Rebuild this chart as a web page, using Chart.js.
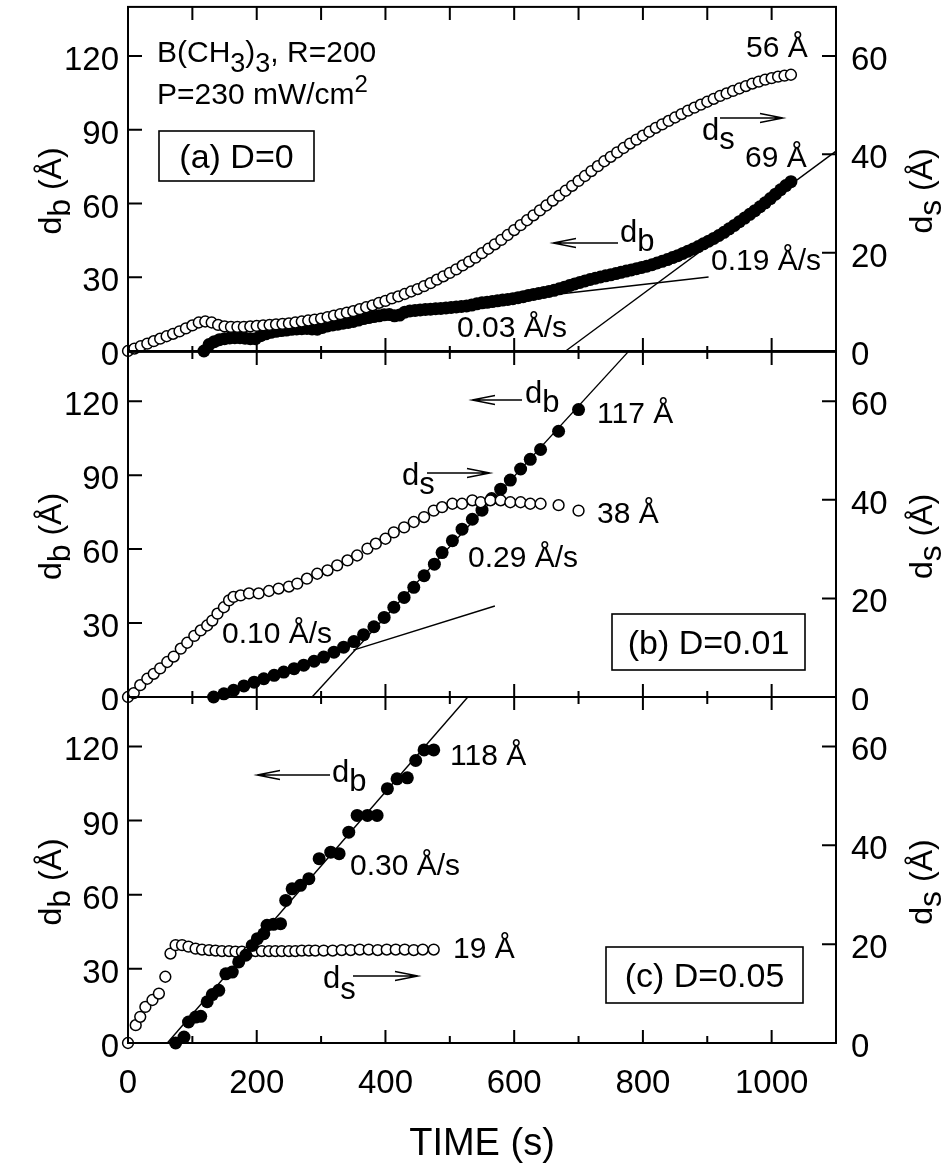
<!DOCTYPE html>
<html><head><meta charset="utf-8">
<script src="https://cdn.jsdelivr.net/npm/chart.js@4.4.0/dist/chart.umd.min.js"></script>
<style>
html,body{margin:0;padding:0;background:#fff;}
body{width:943px;height:1164px;position:relative;overflow:hidden;}
canvas{position:absolute;left:0;}
</style></head><body>
<canvas id="ca" width="943" height="365" style="top:0px"></canvas>
<canvas id="cb" width="943" height="365" style="top:345px"></canvas>
<canvas id="cc" width="943" height="474" style="top:690px"></canvas>
<script>
// ---------- tick labels ----------
const TIME_MAJOR = [0, 200, 400, 600, 800, 1000];
const TIME_MINOR = [100, 300, 500, 700, 900];
const DB_TICKS = [0, 30, 60, 90, 120];
const DS_TICKS = [0, 20, 40, 60];

// ---------- panel (a) D=0 ----------
const a_ds_t = [0,10,20,30,40,50,60,70,80,90,100,110,120,130,140,150,160,170,180,190,200,210,220,230,240,250,260,270,280,290,300,310,320,330,340,350,360,370,380,390,400,410,420,430,440,450,460,470,480,490,500,510,520,530,540,550,560,570,580,590,600,610,620,630,640,650,660,670,680,690,700,710,720,730,740,750,760,770,780,790,800,810,820,830,840,850,860,870,880,890,900,910,920,930,940,950,960,970,980,990,1000,1010,1020,1030];
const a_ds = [0,0.5,1.0,1.5,2.0,2.5,3.0,3.5,4.0,4.6,5.2,5.8,6.0,5.8,5.3,5.0,4.9,4.9,4.9,5.0,5.1,5.2,5.3,5.4,5.5,5.6,5.8,6.0,6.2,6.4,6.6,6.9,7.2,7.5,7.8,8.1,8.5,8.9,9.3,9.8,10.2,10.7,11.1,11.6,12.1,12.6,13.2,13.8,14.5,15.2,15.9,16.6,17.4,18.2,19.0,19.9,20.8,21.7,22.6,23.6,24.6,25.6,26.6,27.6,28.6,29.6,30.6,31.6,32.6,33.6,34.6,35.6,36.6,37.6,38.6,39.5,40.4,41.3,42.2,43.0,43.8,44.6,45.4,46.1,46.8,47.5,48.2,48.9,49.5,50.1,50.7,51.3,51.9,52.4,52.9,53.4,53.9,54.4,54.8,55.2,55.5,55.8,56.0,56.2];
const a_db_t = [118,126,134,142,150,158,166,174,182,190,198,206,214,222,230,238,246,254,262,270,278,286,294,302,310,318,326,334,342,350,358,366,374,382,390,398,406,414,422,430,438,446,454,462,470,478,486,494,502,510,518,526,534,542,550,558,566,574,582,590,598,606,614,622,630,638,646,654,662,670,678,686,694,702,710,718,726,734,742,750,758,766,774,782,790,798,806,814,822,830,838,846,854,862,870,878,886,894,902,910,918,926,934,942,950,958,966,974,982,990,998,1006,1014,1022,1030];
const a_db = [0.0,2.6,3.8,4.6,5.0,5.3,5.4,5.4,5.2,5.0,5.0,6.2,7.0,7.6,8.0,8.3,8.5,8.8,9.0,9.1,9.2,9.0,8.9,9.6,10.2,10.6,10.9,11.3,11.6,12.0,12.6,13.2,13.6,14.0,14.3,14.7,14.8,14.3,14.6,15.8,16.3,16.5,16.7,16.9,17.0,17.2,17.3,17.5,17.7,17.9,18.1,18.3,18.7,19.2,19.6,19.8,20.1,20.4,20.7,21.0,21.3,21.7,22.1,22.6,23.0,23.4,23.8,24.2,24.7,25.3,25.9,26.6,27.3,27.9,28.5,29.1,29.6,30.1,30.6,31.0,31.5,32.0,32.5,33.0,33.5,34.0,34.5,35.1,35.8,36.5,37.2,38.0,38.8,39.7,40.6,41.5,42.5,43.6,44.7,45.8,47.0,48.3,49.7,51.1,52.6,54.1,55.6,57.1,58.7,60.3,62.0,63.8,65.6,67.3,68.9];
const a_fit003_t = [480, 902];
const a_fit003 = [17.5, 30.1];
const a_fit019_t = [680, 1100];
const a_fit019 = [0, 81.3];

// ---------- panel (b) D=0.01 ----------
const b_ds_t = [0,9,19,30,40,50,61,71,82,92,103,113,123,131,139,149,157,164,175,188,203,219,234,250,263,278,294,310,325,341,356,372,385,400,413,429,444,460,475,488,504,519,535,548,563,579,594,610,625,641,669,700];
const b_ds = [0,0.8,2.4,3.7,4.7,5.8,7.1,8.2,9.8,11.0,12.4,13.5,14.5,15.5,16.9,18.2,19.6,20.3,20.6,21.0,21.0,21.5,22.0,22.4,23.0,24.0,25.0,25.7,26.7,27.7,28.7,30.1,31.1,32.1,33.4,34.4,35.5,36.5,37.8,38.5,39.2,39.2,39.9,39.5,39.9,39.9,39.5,39.5,39.2,39.2,38.9,37.8];
const b_db_t = [133,149,164,180,196,211,227,242,258,273,289,304,320,335,351,366,382,398,413,429,444,460,476,488,504,519,535,550,565,579,594,610,625,641,669,700];
const b_db = [0,1.3,2.7,4.5,6.0,7.4,8.8,10.1,11.5,12.9,14.5,16.2,18.2,20.2,22.5,25.3,28.5,32.3,36.4,40.4,44.5,49.2,53.9,58.6,63.4,68.1,72.1,75.8,80.5,84.3,88.0,92.5,96.4,100.4,107.8,116.6];
const b_fit010_t = [350, 570];
const b_fit010 = [19.0, 36.9];
const b_fit029_t = [286, 777];
const b_fit029 = [0, 140];

// ---------- panel (c) D=0.05 ----------
const c_ds_t = [0,12,19,27,38,48,58,66,74,84,94,105,115,126,136,146,157,167,177,188,198,208,219,229,239,250,260,270,281,291,304,318,332,346,360,374,388,402,416,430,444,458,475];
const c_ds = [0,3.6,5.3,7.3,8.7,10.0,13.4,18.1,19.8,19.8,19.5,19.1,18.9,18.8,18.7,18.6,18.6,18.5,18.5,18.5,18.6,18.6,18.6,18.6,18.6,18.6,18.6,18.7,18.7,18.7,18.7,18.7,18.8,18.8,18.9,18.9,18.8,18.9,18.9,18.9,18.8,18.9,18.9];
const c_db_t = [74,87,94,105,113,123,131,141,152,162,172,183,193,201,211,216,226,237,245,255,268,281,297,315,328,343,356,372,387,403,418,434,447,460,475];
const c_db = [0,2.4,8.5,10.5,10.8,16.7,19.6,21.3,28.0,28.7,32.8,35.5,39.5,42.2,44.2,47.6,48.0,48.3,57.7,62.4,63.8,66.5,74.6,77.2,76.6,85.3,92.1,92.1,92.1,102.9,106.9,107.3,114.3,118.6,118.6];
const c_fit030_t = [61, 528];
const c_fit030 = [0, 140];

// ---------- helpers ----------
const FAM = '"Liberation Sans", Arial, Helvetica, sans-serif';
const F = s => s + 'px ' + FAM;
const pts = (t, v) => t.map((x, i) => ({x: x, y: v[i]}));

function rich(ctx, parts, x, y, size, align) {
  let w = 0;
  for (const p of parts) { ctx.font = F(size * (p[2] || 1)); w += ctx.measureText(p[0]).width; }
  let cx = align === 'center' ? x - w / 2 : x;
  ctx.textAlign = 'left'; ctx.textBaseline = 'alphabetic';
  for (const p of parts) {
    ctx.font = F(size * (p[2] || 1));
    ctx.fillText(p[0], cx, y + (p[1] || 0));
    cx += ctx.measureText(p[0]).width;
  }
}
function txt(ctx, s, x, y, size, align) {
  ctx.font = F(size); ctx.textAlign = align || 'left'; ctx.textBaseline = 'alphabetic';
  ctx.fillText(s, x, y);
}
function arrow(ctx, x1, x2, y, headLeft) {
  ctx.save(); ctx.lineWidth = 1.4; ctx.beginPath();
  ctx.moveTo(x1, y); ctx.lineTo(x2, y);
  const hx = headLeft ? x1 : x2, d = headLeft ? 1 : -1;
  ctx.moveTo(hx + d * 23, y - 4.5); ctx.lineTo(hx, y); ctx.lineTo(hx + d * 23, y + 4.5);
  ctx.stroke(); ctx.restore();
}
function box(ctx, x1, y1, x2, y2, label) {
  ctx.save(); ctx.lineWidth = 1.6; ctx.strokeRect(x1, y1, x2 - x1, y2 - y1);
  ctx.font = F(34); ctx.textAlign = 'center'; ctx.textBaseline = 'alphabetic';
  ctx.fillText(label, (x1 + x2) / 2, (y1 + y2) / 2 + 12);
  ctx.restore();
}

function openSet(t, v, axis) {
  return {data: pts(t, v), yAxisID: axis, pointRadius: 5.4, pointBorderWidth: 1.5,
    pointBackgroundColor: '#fff', pointBorderColor: '#000', showLine: false, clip: false};
}
function filledSet(t, v, axis, r) {
  return {data: pts(t, v), yAxisID: axis, pointRadius: r, pointBorderWidth: 0,
    pointBackgroundColor: '#000', pointBorderColor: '#000', showLine: false, clip: false};
}
function fitSet(t, v) {
  return {data: pts(t, v), yAxisID: 'yl', pointRadius: 0, showLine: true, borderColor: '#000',
    borderWidth: 1.4, fill: false, clip: false};
}

function panelPlugin(cfg) {
  return {
    id: 'panel_' + cfg.name,
    afterDraw(chart) {
      const ctx = chart.ctx, ca = chart.chartArea;
      const sx = chart.scales.x, yl = chart.scales.yl, yr = chart.scales.yr;
      ctx.save();
      ctx.strokeStyle = '#000'; ctx.fillStyle = '#000'; ctx.lineWidth = 2;
      ctx.strokeRect(ca.left, ca.top, ca.right - ca.left, ca.bottom - ca.top);
      ctx.beginPath();
      for (const v of DB_TICKS) { const p = yl.getPixelForValue(v); ctx.moveTo(ca.left, p); ctx.lineTo(ca.left + 14, p); }
      for (const v of DS_TICKS) { const p = yr.getPixelForValue(v); ctx.moveTo(ca.right, p); ctx.lineTo(ca.right - 14, p); }
      for (const v of TIME_MAJOR) {
        const p = sx.getPixelForValue(v);
        ctx.moveTo(p, ca.bottom); ctx.lineTo(p, ca.bottom - 13);
        ctx.moveTo(p, ca.top); ctx.lineTo(p, ca.top + 13);
      }
      for (const v of TIME_MINOR) {
        const p = sx.getPixelForValue(v);
        ctx.moveTo(p, ca.bottom); ctx.lineTo(p, ca.bottom - cfg.botMinor);
        ctx.moveTo(p, ca.top); ctx.lineTo(p, ca.top + cfg.topMinor);
      }
      ctx.stroke();
      // tick labels
      for (const v of DB_TICKS) txt(ctx, String(v), ca.left - 9, yl.getPixelForValue(v) + 14, 33, 'right');
      for (const v of DS_TICKS) txt(ctx, String(v), ca.right + 15, yr.getPixelForValue(v) + 14, 33, 'left');
      if (cfg.xLabels) {
        for (const v of TIME_MAJOR) txt(ctx, String(v), sx.getPixelForValue(v), ca.bottom + 50, 33, 'center');
        txt(ctx, 'TIME (s)', (ca.left + ca.right) / 2, ca.bottom + 112, 38, 'center');
      }
      // axis titles
      const yc = (ca.top + ca.bottom) / 2 + 12;
      ctx.save(); ctx.translate(61, yc); ctx.rotate(-Math.PI / 2);
      rich(ctx, [['d', 0], ['b', 9], [' (Å)', 0]], 0, 0, 32, 'center'); ctx.restore();
      ctx.save(); ctx.translate(932, yc); ctx.rotate(-Math.PI / 2);
      rich(ctx, [['d', 0], ['s', 9], [' (Å)', 0]], 0, 0, 32, 'center'); ctx.restore();
      // annotations in page coordinates
      ctx.translate(0, -cfg.top);
      cfg.annotate(ctx);
      ctx.restore();
    }
  };
}

function makeChart(cfg, datasets) {
  return new Chart(document.getElementById(cfg.name), {
    type: 'scatter',
    data: {datasets: datasets},
    options: {
      responsive: false, animation: false, devicePixelRatio: 1, events: [],
      layout: {padding: {left: 128, right: 107, top: cfg.padTop, bottom: cfg.padBottom}},
      scales: {
        x: {type: 'linear', min: 0, max: 1100, display: false},
        yl: {type: 'linear', position: 'left', min: 0, max: 140, display: false},
        yr: {type: 'linear', position: 'right', min: 0, max: 70, display: false}
      },
      plugins: {legend: {display: false}, tooltip: {enabled: false}}
    },
    plugins: [panelPlugin(cfg)]
  });
}

// ---------- panel a ----------
makeChart({name: 'ca', top: 0, padTop: 5, padBottom: 14, topMinor: 13, botMinor: 5, xLabels: false,
  annotate(ctx) {
    rich(ctx, [['B(CH', 0], ['3', 10, 0.9], [')', 0], ['3', 10, 0.9], [', R=200', 0]], 157, 62, 30);
    rich(ctx, [['P=230 mW/cm', 0], ['2', -12, 0.8]], 157, 104, 30);
    box(ctx, 159, 131, 314, 181, '(a) D=0');
    txt(ctx, '56 Å', 746, 57, 30);
    rich(ctx, [['d', 0], ['s', 9]], 702, 140, 31);
    arrow(ctx, 720, 783, 118, false);
    txt(ctx, '69 Å', 745, 167, 30);
    arrow(ctx, 553, 618, 243, true);
    rich(ctx, [['d', 0], ['b', 9]], 620, 242, 31);
    txt(ctx, '0.19 Å/s', 711, 270, 30);
    txt(ctx, '0.03 Å/s', 457, 337, 30);
  }
}, [
  openSet(a_ds_t, a_ds, 'yr'),
  filledSet(a_db_t, a_db, 'yl', 6.5),
  fitSet(a_fit003_t, a_fit003),
  fitSet(a_fit019_t, a_fit019)
]);

// ---------- panel b ----------
makeChart({name: 'cb', top: 345, padTop: 6, padBottom: 13, topMinor: 7, botMinor: 6, xLabels: false,
  annotate(ctx) {
    arrow(ctx, 472, 522, 400, true);
    rich(ctx, [['d', 0], ['b', 9]], 525, 403, 31);
    txt(ctx, '117 Å', 597, 423, 30);
    rich(ctx, [['d', 0], ['s', 9]], 402, 485, 31);
    arrow(ctx, 427, 490, 473, false);
    txt(ctx, '38 Å', 597, 523, 30);
    txt(ctx, '0.29 Å/s', 468, 567, 30);
    txt(ctx, '0.10 Å/s', 222, 643, 30);
    box(ctx, 612, 614, 805, 670, '(b) D=0.01');
  }
}, [
  openSet(b_ds_t, b_ds, 'yr'),
  filledSet(b_db_t, b_db, 'yl', 6.5),
  fitSet(b_fit010_t, b_fit010),
  fitSet(b_fit029_t, b_fit029)
]);

// ---------- panel c ----------
makeChart({name: 'cc', top: 690, padTop: 7, padBottom: 121, topMinor: 7, botMinor: 7, xLabels: true,
  annotate(ctx) {
    txt(ctx, '118 Å', 450, 765, 30);
    txt(ctx, '0.30 Å/s', 350, 875, 30);
    txt(ctx, '19 Å', 453, 958, 30);
    arrow(ctx, 257, 330, 775, true);
    rich(ctx, [['d', 0], ['b', 9]], 332, 782, 31);
    rich(ctx, [['d', 0], ['s', 11]], 323, 988, 31);
    arrow(ctx, 353, 418, 976, false);
    box(ctx, 606, 947, 803, 1003, '(c) D=0.05');
  }
}, [
  filledSet(c_db_t, c_db, 'yl', 6.5),
  openSet(c_ds_t, c_ds, 'yr'),
  fitSet(c_fit030_t, c_fit030)
]);
</script></body></html>
